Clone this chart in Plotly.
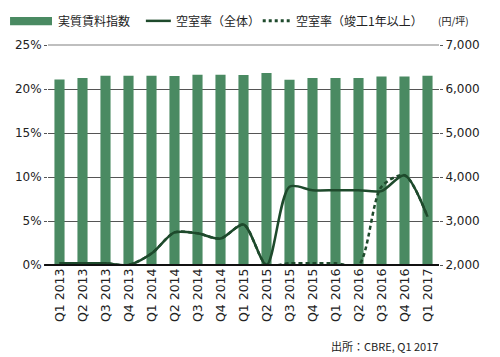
import plotly.graph_objects as go

quarters = ["Q1 2013", "Q2 2013", "Q3 2013", "Q4 2013", "Q1 2014", "Q2 2014", "Q3 2014", "Q4 2014",
            "Q1 2015", "Q2 2015", "Q3 2015", "Q4 2015", "Q1 2016", "Q2 2016", "Q3 2016", "Q4 2016", "Q1 2017"]
rent_index = [6218, 6250, 6302, 6302, 6302, 6295, 6324, 6324, 6318, 6363, 6211, 6250, 6250, 6250, 6286, 6286, 6302]
vacancy_all = [0.002, 0.002, 0.002, 0.000, 0.013, 0.037, 0.036, 0.030, 0.046, 0.000, 0.089, 0.085, 0.085, 0.085, 0.084, 0.102, 0.055]
vacancy_1yr = [0.002, 0.002, 0.002, 0.000, 0.013, 0.037, 0.036, 0.030, 0.046, 0.000, 0.002, 0.002, 0.002, 0.000, 0.089, 0.102, 0.055]

left_ticks = [0, 0.05, 0.10, 0.15, 0.20, 0.25]
left_labels = ["0%", "5%", "10%", "15%", "20%", "25%"]
right_ticks = [2000, 3000, 4000, 5000, 6000, 7000]
right_labels = ["2,000", "3,000", "4,000", "5,000", "6,000", "7,000"]

legend_labels = ["実質賃料指数", "空室率（全体）", "空室率（竣工1年以上）"]
unit_label = "(円/坪)"
source_label = "出所：CBRE, Q1 2017"

BAR = "#4a8a62"
LINE = "#1e4a2c"

W_PX, H_PX = 500, 357
L, R, T, B = 48, 439.5, 44.7, 265.3
PW, PH = R - L, B - T


def px(x):
    return (x - L) / PW


def py(y):
    return 1 - (y - T) / PH


fig = go.Figure()
fig.add_trace(go.Bar(x=quarters, y=rent_index, marker=dict(color=BAR, line=dict(width=0)),
                     yaxis="y", name=legend_labels[0]))
fig.add_trace(go.Scatter(x=quarters, y=vacancy_all, mode="lines", yaxis="y2",
                         line=dict(color=LINE, width=2.5, shape="spline", smoothing=0.8),
                         name=legend_labels[1]))
fig.add_trace(go.Scatter(x=quarters, y=vacancy_1yr, mode="lines", yaxis="y2",
                         line=dict(color=LINE, width=2.5, shape="spline", smoothing=0.8, dash="4px,3px"),
                         name=legend_labels[2]))

tickfont = dict(family="DejaVu Sans", size=12, color="#222")

fig.update_layout(
    width=W_PX, height=H_PX,
    margin=dict(l=L, r=W_PX - R, t=T, b=H_PX - B, pad=0),
    paper_bgcolor="white", plot_bgcolor="white",
    showlegend=False, bargap=0.56,
    xaxis=dict(tickangle=-90, tickfont=dict(family="DejaVu Sans", size=12.5, color="#222"),
               showgrid=False, showline=False, ticks="", ticklen=0, automargin=False),
    yaxis=dict(side="right", range=[2000, 7000], tickvals=right_ticks, ticktext=right_labels,
               tickfont=tickfont, showgrid=True, gridcolor="#555", gridwidth=1,
               ticks="outside", ticklen=3, tickcolor="#555", zeroline=False, showline=False,
               automargin=False),
    yaxis2=dict(overlaying="y", side="left", range=[0, 0.25], tickvals=left_ticks, ticktext=left_labels,
                tickfont=tickfont, showgrid=False, ticks="outside", ticklen=3, tickcolor="#555",
                zeroline=False, showline=False, automargin=False),
)

# bottom axis line
fig.add_shape(type="line", xref="paper", yref="paper", x0=-0.01, x1=1.0, y0=0, y1=0,
              line=dict(color="#111", width=2))
# lighter top grid line
fig.add_shape(type="line", xref="paper", yref="paper", x0=0, x1=1.0, y0=1, y1=1,
              line=dict(color="#aaa", width=1.5))

# legend (manual)
fig.add_shape(type="rect", xref="paper", yref="paper", x0=px(10), x1=px(52), y0=py(25), y1=py(16.5),
              fillcolor=BAR, line=dict(width=0))
fig.add_shape(type="line", xref="paper", yref="paper", x0=px(146), x1=px(171), y0=py(20.5), y1=py(20.5),
              line=dict(color=LINE, width=2.5))
fig.add_shape(type="line", xref="paper", yref="paper", x0=px(263), x1=px(290), y0=py(20.5), y1=py(20.5),
              line=dict(color=LINE, width=3, dash="3px,3px"))
lfont = dict(family="Noto Sans CJK JP", size=12, color="#222")
for xpos, txt in [(56, legend_labels[0]), (174, legend_labels[1]), (294, legend_labels[2])]:
    fig.add_annotation(xref="paper", yref="paper", x=px(xpos), y=py(20.5), text=txt, showarrow=False,
                       xanchor="left", yanchor="middle", font=lfont)
fig.add_annotation(xref="paper", yref="paper", x=px(436), y=py(20.5), text=unit_label, showarrow=False,
                   xanchor="left", yanchor="middle", font=dict(family="Noto Sans CJK JP", size=10, color="#222"))
fig.add_annotation(xref="paper", yref="paper", x=px(441), y=py(347), text=source_label, showarrow=False,
                   xanchor="right", yanchor="middle",
                   font=dict(family="Noto Sans CJK JP", size=11, color="#222"))

fig.write_html("out.html", config={"displayModeBar": False},
               post_script="document.body.style.margin='0';")
